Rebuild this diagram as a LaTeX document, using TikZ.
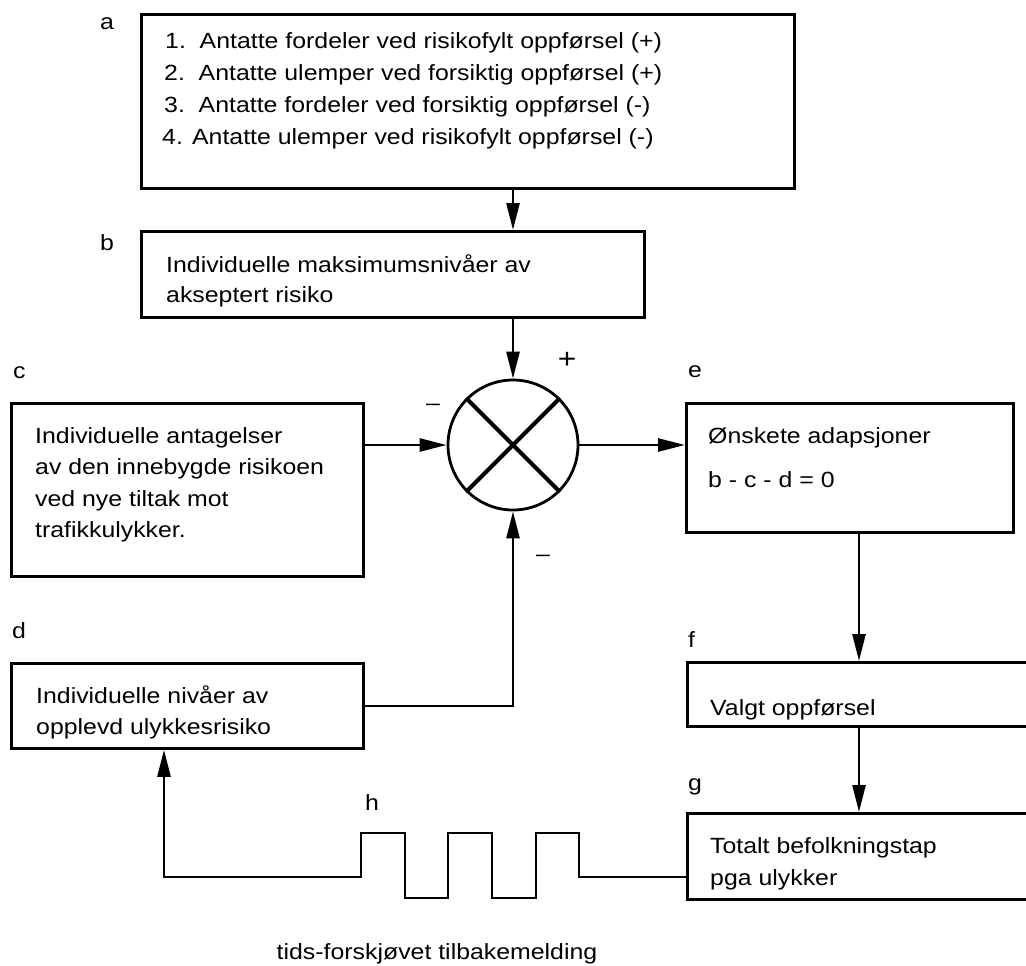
\documentclass[tikz,border=0pt]{standalone}
\usepackage{fontspec}
\setmainfont{Liberation Sans}[FakeStretch=1.13]
\usetikzlibrary{arrows.meta}
\begin{document}
\begin{tikzpicture}[x=1pt,y=-1pt,
  box/.style={draw,line width=2.8pt,rectangle,inner sep=0pt,anchor=north west},
  txt/.style={anchor=base west,inner sep=0pt,font=\fontsize{22}{31}\selectfont},
  tag/.style={anchor=base west,inner sep=0pt,font=\fontsize{22}{26}\selectfont},
  sign/.style={anchor=base,inner sep=0pt,font=\fontsize{22}{26}\selectfont},
  conn/.style={line width=2.6pt},
  arr/.style={conn,-{Triangle[length=27pt,width=13pt]}}]
\useasboundingbox (0,0) rectangle (1026,966);

% boxes
\node[box,minimum width=653pt,minimum height=174pt] (a) at (140,13) {};
\node[box,minimum width=503pt,minimum height=86pt]  (b) at (140,230) {};
\node[box,minimum width=352pt,minimum height=173pt] (c) at (10,402) {};
\node[box,minimum width=352pt,minimum height=85pt]  (d) at (10,662) {};
\node[box,minimum width=327pt,minimum height=129pt] (e) at (685,402) {};
\node[box,minimum width=360pt,minimum height=64pt]  (f) at (686,661) {};
\node[box,minimum width=360pt,minimum height=86pt]  (g) at (686,812) {};

% comparator
\node[draw,circle,line width=2.8pt,minimum size=130pt,inner sep=0pt] (sum) at (513,445) {};
\draw[line width=4.2pt] (sum.north west) -- (sum.south east);
\draw[line width=4.2pt] (sum.north east) -- (sum.south west);

% box texts
\node[txt] (a1) at (165,49)  {1.\ \ Antatte fordeler ved risikofylt oppførsel (+)};
\node[txt] (a2) at (164,81)  {2.\ \ Antatte ulemper ved forsiktig oppførsel (+)};
\node[txt] (a3) at (164,113) {3.\ \ Antatte fordeler ved forsiktig oppførsel (-)};
\node[txt] (a4) at (162,144) {4. Antatte ulemper ved risikofylt oppførsel (-)};

\node[txt] (b1) at (166,272) {Individuelle maksimumsnivåer av};
\node[txt] (b2) at (166,302) {akseptert risiko};

\node[txt] (c1) at (35,443) {Individuelle antagelser};
\node[txt] (c2) at (35,474) {av den innebygde risikoen};
\node[txt] (c3) at (35,506) {ved nye tiltak mot};
\node[txt] (c4) at (35,537) {trafikkulykker.};

\node[txt] (d1) at (36,703) {Individuelle nivåer av};
\node[txt] (d2) at (36,734) {opplevd ulykkesrisiko};

\node[txt] (e1) at (708,443) {Ønskete adapsjoner};
\node[txt] (e2) at (708,487) {b - c - d = 0};

\node[txt] (f1) at (710,715) {Valgt oppførsel};

\node[txt] (g1) at (710,853) {Totalt befolkningstap};
\node[txt] (g2) at (710,885) {pga ulykker};

% letters
\node[tag] (ta) at (100,30)  {a};
\node[tag] (tb) at (100,250) {b};
\node[tag] (tc) at (13,378)  {c};
\node[tag] (td) at (12,638)  {d};
\node[tag] (te) at (688,377) {e};
\node[tag] (tf) at (688,647) {f};
\node[tag] (tg) at (688,790) {g};
\node[tag] (th) at (365,810) {h};

% signs at the comparator
\node[sign,font=\fontsize{28}{30}\selectfont] (plus) at (567,368) {+};
\node[sign] (minc)  at (433,410) {–};
\node[sign] (mind)  at (543,561) {–};

\node[sign] (delay) at (437,959) {tids-forskjøvet tilbakemelding};

% connectors
\coordinate (col) at (859,0);
\coordinate (turn) at (164,877);
\draw[arr] (sum |- a.south) -- (sum |- b.north);
\draw[arr] (sum |- b.south) -- (sum.north);
\draw[arr] (c.east |- sum) -- (sum.west);
\draw[arr] (sum.east) -- (e.west |- sum);
\draw[arr] (col |- e.south) -- (col |- f.north);
\draw[arr] (col |- f.south) -- (col |- g.north);
\draw[arr] (d.east) -| (sum.south);
\draw[arr] (g.west |- turn) -- (579,877) -- (579,833) -- (536,833) -- (536,898)
  -- (492,898) -- (492,833) -- (448,833) -- (448,898) -- (405,898) -- (405,833)
  -- (361,833) -- (361,877) -- (turn) -- (turn |- d.south);
\end{tikzpicture}
\end{document}
